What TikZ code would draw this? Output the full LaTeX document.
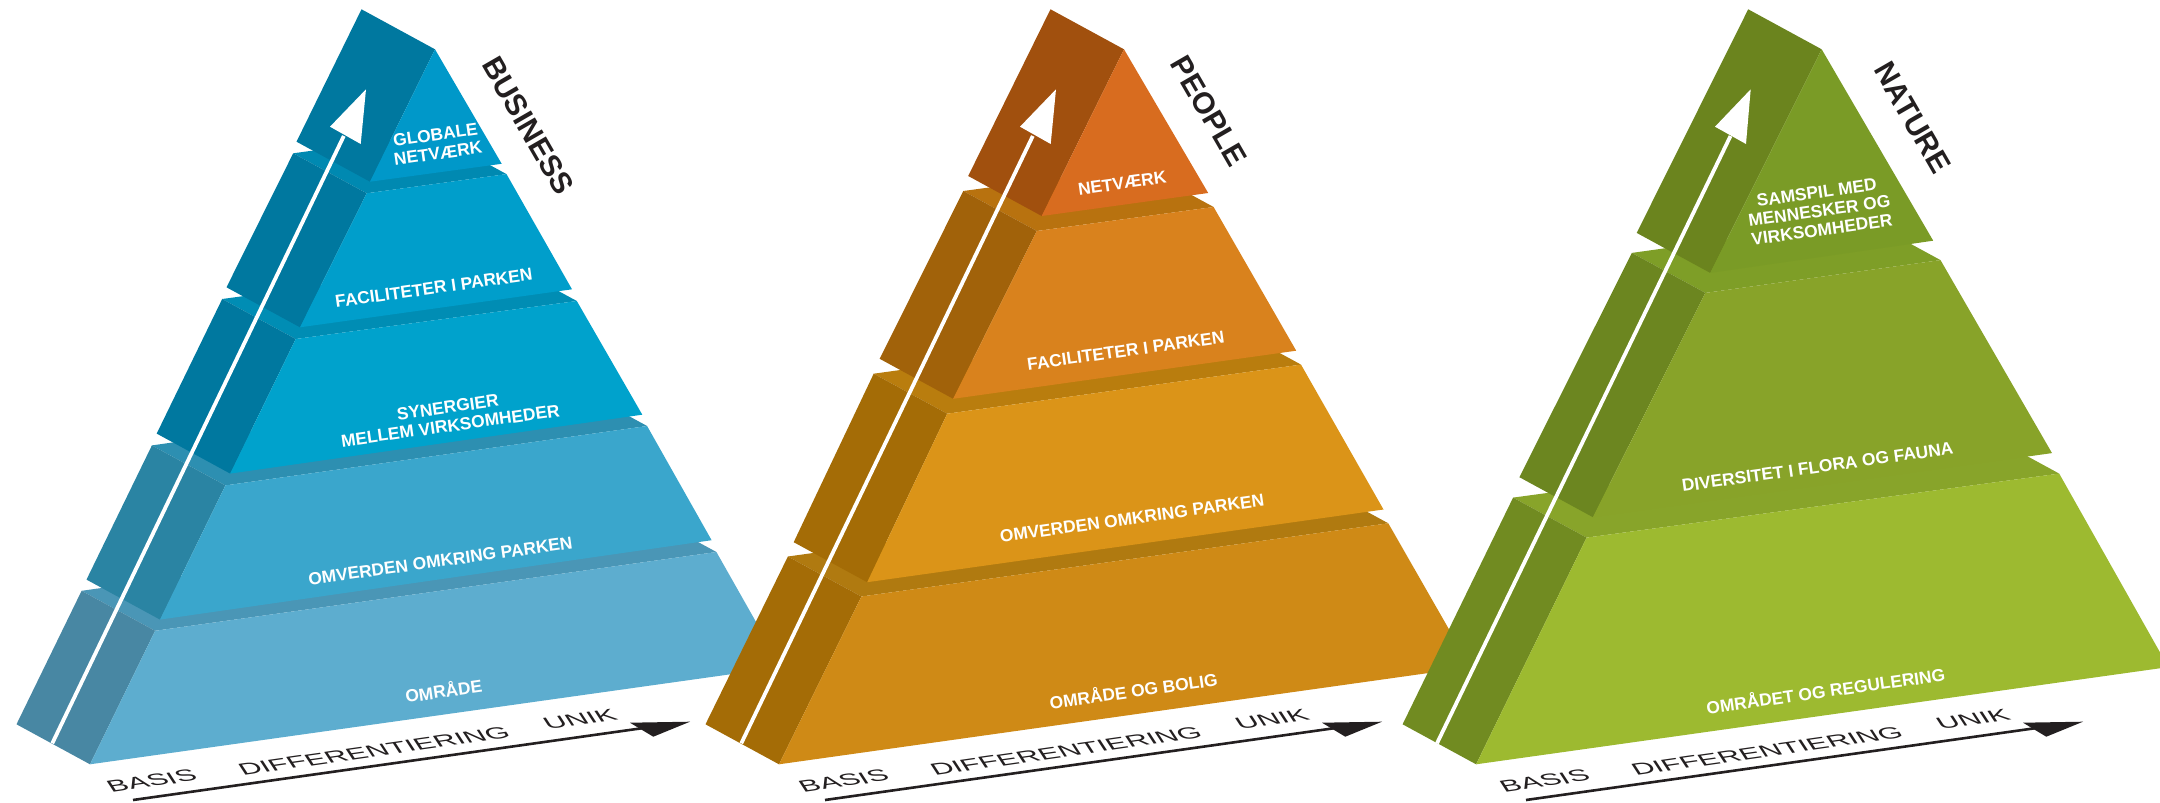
\documentclass[tikz,border=0pt]{standalone}
\usepackage{fontspec}
\setmainfont{Liberation Sans}
\usetikzlibrary{calc}

% Business (blue)
\definecolor{bF1}{HTML}{0098C9}
\definecolor{bF2}{HTML}{009ECB}
\definecolor{bF3}{HTML}{00A2CC}
\definecolor{bF4}{HTML}{3AA6CC}
\definecolor{bF5}{HTML}{5DADCF}
\definecolor{bS1}{HTML}{00789F}
\definecolor{bS4}{HTML}{2A84A3}
\definecolor{bS5}{HTML}{4887A3}
\definecolor{bT2}{HTML}{0089B1}
\definecolor{bT3}{HTML}{008DB4}
\definecolor{bT4}{HTML}{2D8FB1}
\definecolor{bT5}{HTML}{4A96B6}
% People (orange)
\definecolor{oF1}{HTML}{D86C1F}
\definecolor{oF2}{HTML}{D9821D}
\definecolor{oF3}{HTML}{DB9418}
\definecolor{oF4}{HTML}{CF8A16}
\definecolor{oS1}{HTML}{A1500E}
\definecolor{oS2}{HTML}{A1620A}
\definecolor{oS3}{HTML}{A46C06}
\definecolor{oT2}{HTML}{B8720F}
\definecolor{oT3}{HTML}{B97D0E}
\definecolor{oT4}{HTML}{B07A10}
% Nature (green)
\definecolor{gF1}{HTML}{7A9B26}
\definecolor{gF2}{HTML}{88A329}
\definecolor{gF3}{HTML}{9DBA30}
\definecolor{gS1}{HTML}{6B841E}
\definecolor{gS2}{HTML}{6C8620}
\definecolor{gS3}{HTML}{718B21}
\definecolor{gT2}{HTML}{7E9E27}
\definecolor{gT3}{HTML}{88A42A}
\definecolor{ink}{HTML}{231F20}

% slab: TL, TR, BR, BL, front, side, top
\newcommand{\pyrlayer}[7]{%
  \fill[#7] #1 -- #2 -- ($#2+(-73.5,-40)$) -- ($#1+(-73.5,-40)$) -- cycle;
  \fill[#6] #1 -- ($#1+(-73.5,-40)$) -- ($#4+(-73.5,-40)$) -- #4 -- cycle;
  \fill[#5] #1 -- #2 -- #3 -- #4 -- cycle;
}
% top: apex, BR, BL, front, side
\newcommand{\pyrtop}[5]{%
  \fill[#5] #1 -- ($#1+(-73.5,-40)$) -- ($#3+(-73.5,-40)$) -- #3 -- cycle;
  \fill[#4] #1 -- #2 -- #3 -- cycle;
}

\tikzset{
  lbl/.style={font=\bfseries\fontsize{8.7}{9.4}\selectfont, text=white, align=center, rotate=8, inner sep=0pt},
  ttl/.style={font=\bfseries\fontsize{15}{18}\selectfont, text=ink, rotate=-60, inner sep=0pt},
  axtxt/.style={font=\fontsize{15}{18}\selectfont, text=ink, inner sep=0pt, cm={0.99,0.141,-0.34,0.52,(0,0)}},
  axline/.style={draw=ink, line width=1.3pt},
  upshaft/.style={draw=white, line width=1.9pt}
}

\begin{document}
\begin{tikzpicture}[x=0.5pt, y=-0.5pt]
\useasboundingbox (0,0) rectangle (2160,803);
\fill[white] (0,0) rectangle (2160,803);
\clip (0,0) rectangle (2160,803);

% ================= BUSINESS =================
\pyrlayer{(155.1,630.8)}{(716.4,552)}{(781.6,667.1)}{(90,764.3)}{bF5}{bS5}{bT5}
\pyrlayer{(225.4,485.4)}{(647.1,426)}{(711.6,540.2)}{(160,619.6)}{bF4}{bS4}{bT4}
\pyrlayer{(295.7,339)}{(576.8,301)}{(642.3,414.7)}{(230.2,473.6)}{bF3}{bS1}{bT3}
\pyrlayer{(366.7,193.3)}{(506.5,174.1)}{(572,289.3)}{(300,327.3)}{bF2}{bS1}{bT2}
\pyrtop{(435,49.3)}{(501.7,163.8)}{(370,181.7)}{bF1}{bS1}
\draw[upshaft] (52.3,743.3) -- (343.8,136);
\fill[white] (366,89.3) -- (330,126.7) -- (360.7,144) -- cycle;

\node[lbl] (b1) at (436.7,144) {GLOBALE\\NETVÆRK};
\node[lbl] (b2) at (433.8,288) {FACILITETER I PARKEN};
\node[lbl] (b3) at (449,416.5) {SYNERGIER\\MELLEM VIRKSOMHEDER};
\node[lbl] (b4) at (440.4,561) {OMVERDEN OMKRING PARKEN};
\node[lbl] (b5) at (443.5,690) {OMRÅDE};
\node[ttl] (bt) at (528.3,125.7) {BUSINESS};

\begin{scope}[shift={(0,0)}]
  \draw[axline] (133,800) -- (650,727.1);
  \fill[ink] (630,722.7) -- (690,721.7) -- (653.3,736.7) -- cycle;
  \node[axtxt] (ba) at (151.7,781) {BASIS};
  \node[axtxt] (bd) at (374,751) {DIFFERENTIERING};
  \node[axtxt] (bu) at (580,719) {UNIK};
\end{scope}

% ================= PEOPLE =================
\pyrlayer{(861.4,596.5)}{(1388.3,523.3)}{(1470.6,667.1)}{(779,764.3)}{oF4}{oS3}{oT4}
\pyrlayer{(947.2,413.7)}{(1301,364.6)}{(1383.5,509.5)}{(867.2,582.2)}{oF3}{oS3}{oT3}
\pyrlayer{(1036.8,231)}{(1213.6,207)}{(1296.2,350.7)}{(953.2,398.8)}{oF2}{oS2}{oT2}
\pyrtop{(1124,49.3)}{(1208.2,193)}{(1041.7,216)}{oF1}{oS1}
\draw[upshaft] (741.3,743.3) -- (1032.8,136);
\fill[white] (1056,89.3) -- (1020,126.7) -- (1050.7,144) -- cycle;

\node[lbl] (o1) at (1122.2,183.3) {NETVÆRK};
\node[lbl] (o2) at (1125.8,350.7) {FACILITETER I PARKEN};
\node[lbl] (o3) at (1132,518.4) {OMVERDEN OMKRING PARKEN};
\node[lbl] (o4) at (1133.4,690) {OMRÅDE OG BOLIG};
\node[ttl] (ot) at (1209,111.3) {PEOPLE};

\begin{scope}[shift={(692,0)}]
  \draw[axline] (133,800) -- (650,727.1);
  \fill[ink] (630,722.7) -- (690,721.7) -- (653.3,736.7) -- cycle;
  \node[axtxt] (oa) at (151.7,781) {BASIS};
  \node[axtxt] (od) at (374,751) {DIFFERENTIERING};
  \node[axtxt] (ou) at (580,719) {UNIK};
\end{scope}

% ================= NATURE =================
\pyrlayer{(1586.6,537.6)}{(2059.2,473.6)}{(2168.3,667.1)}{(1476.1,764.3)}{gF3}{gS3}{gT3}
\pyrlayer{(1705.4,292.9)}{(1940.5,260.1)}{(2052,453.1)}{(1592.9,517.2)}{gF2}{gS2}{gT2}
\pyrtop{(1821.7,49.3)}{(1933.2,240.7)}{(1710.2,272.9)}{gF1}{gS1}
\draw[upshaft] (1437,743.3) -- (1730.5,136);
\fill[white] (1750.7,89.3) -- (1715,126.7) -- (1746,144) -- cycle;

\node[lbl] (g1) at (1819.3,211) {SAMSPIL MED\\MENNESKER OG\\VIRKSOMHEDER};
\node[lbl] (g2) at (1817.6,467) {DIVERSITET I FLORA OG FAUNA};
\node[lbl] (g3) at (1825.6,690) {OMRÅDET OG REGULERING};
\node[ttl] (gt) at (1912.6,117.8) {NATURE};

\begin{scope}[shift={(1393,0)}]
  \draw[axline] (133,800) -- (650,727.1);
  \fill[ink] (630,722.7) -- (690,721.7) -- (653.3,736.7) -- cycle;
  \node[axtxt] (ga) at (151.7,781) {BASIS};
  \node[axtxt] (gd) at (374,751) {DIFFERENTIERING};
  \node[axtxt] (gu) at (580,719) {UNIK};
\end{scope}
\end{tikzpicture}
\end{document}
